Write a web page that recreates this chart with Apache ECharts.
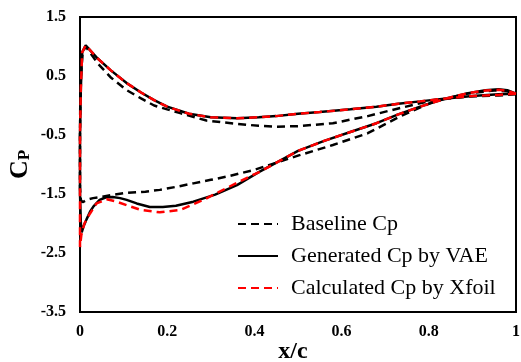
<!DOCTYPE html>
<html>
<head>
<meta charset="utf-8">
<script src="https://cdn.jsdelivr.net/npm/echarts@6/dist/echarts.min.js"></script>
<style>
  html, body { margin: 0; padding: 0; background: #fff; }
  #chart { width: 521px; height: 362px; }
</style>
</head>
<body>
<div id="chart"></div>
<script>
// each curve runs trailing edge -> upper surface -> leading edge -> lower surface -> trailing edge
const seriesNames = ['Baseline Cp', 'Generated Cp by VAE', 'Calculated Cp by Xfoil'];

const baselineCp = [
  [1.0, 0.19], [0.96, 0.17], [0.89, 0.15], [0.81, 0.09], [0.73, -0.05], [0.66, -0.18],
  [0.58, -0.3], [0.5, -0.35], [0.45, -0.36], [0.41, -0.345], [0.36, -0.31], [0.29, -0.255],
  [0.23, -0.13], [0.17, 0.0], [0.14, 0.12], [0.107, 0.26], [0.07, 0.48], [0.04, 0.72],
  [0.013, 1.0], [0.006, 0.9], [0.001, 0.4], [0.0, -0.5], [0.0, -1.4], [0.002, -1.6],
  [0.006, -1.64], [0.015, -1.6], [0.03, -1.57], [0.05, -1.55], [0.07, -1.52], [0.107, -1.48],
  [0.15, -1.46], [0.183, -1.43], [0.22, -1.38], [0.26, -1.32], [0.3, -1.26], [0.34, -1.2],
  [0.4, -1.09], [0.45, -0.97], [0.5, -0.85], [0.58, -0.67], [0.66, -0.47], [0.73, -0.2],
  [0.81, 0.065], [0.887, 0.2], [0.95, 0.255], [0.98, 0.24], [1.0, 0.19]
];

const vaeCp = [
  [1.0, 0.2], [0.96, 0.19], [0.9, 0.16], [0.84, 0.12], [0.78, 0.07], [0.73, 0.03],
  [0.68, -0.02], [0.62, -0.065], [0.55, -0.11], [0.5, -0.14], [0.45, -0.18], [0.41, -0.2],
  [0.36, -0.215], [0.3, -0.2], [0.25, -0.14], [0.2, -0.02], [0.17, 0.09], [0.14, 0.22],
  [0.107, 0.38], [0.07, 0.6], [0.04, 0.8], [0.013, 1.02], [0.005, 0.9], [0.002, 0.3],
  [0.0, -0.5], [0.0, -1.5], [0.002, -2.0], [0.004, -2.15], [0.008, -2.05], [0.015, -1.93],
  [0.023, -1.8], [0.031, -1.71], [0.045, -1.6], [0.06, -1.555], [0.075, -1.55], [0.092, -1.57],
  [0.107, -1.6], [0.13, -1.66], [0.16, -1.72], [0.19, -1.72], [0.22, -1.7], [0.26, -1.63],
  [0.31, -1.51], [0.36, -1.35], [0.41, -1.13], [0.46, -0.93], [0.5, -0.77], [0.56, -0.6],
  [0.62, -0.45], [0.68, -0.3], [0.73, -0.15], [0.78, -0.02], [0.84, 0.12], [0.89, 0.21],
  [0.93, 0.26], [0.96, 0.275], [0.98, 0.26], [1.0, 0.2]
];

const xfoilCp = [
  [1.0, 0.2], [0.96, 0.18], [0.9, 0.16], [0.84, 0.12], [0.78, 0.07], [0.73, 0.03],
  [0.68, -0.02], [0.62, -0.065], [0.55, -0.11], [0.5, -0.14], [0.45, -0.18], [0.41, -0.2],
  [0.36, -0.215], [0.3, -0.2], [0.25, -0.14], [0.2, -0.02], [0.17, 0.09], [0.14, 0.22],
  [0.107, 0.38], [0.07, 0.6], [0.04, 0.8], [0.013, 1.02], [0.005, 0.9], [0.002, 0.3],
  [0.0, -0.5], [0.0, -1.5], [0.0, -2.4], [0.003, -2.2], [0.01, -2.0], [0.023, -1.83],
  [0.038, -1.66], [0.061, -1.59], [0.08, -1.62], [0.107, -1.69], [0.14, -1.77], [0.183, -1.81],
  [0.23, -1.77], [0.283, -1.6], [0.336, -1.4], [0.382, -1.23], [0.413, -1.12], [0.46, -0.93],
  [0.5, -0.77], [0.56, -0.6], [0.62, -0.45], [0.68, -0.3], [0.73, -0.15], [0.78, -0.02],
  [0.84, 0.12], [0.89, 0.21], [0.93, 0.255], [0.96, 0.265], [0.98, 0.25], [1.0, 0.2]
];

const yTickLabels = [-3.5, -2.5, -1.5, -0.5, 0.5, 1.5];

const chart = echarts.init(document.getElementById('chart'));
const serif = '"Liberation Serif", "Times New Roman", serif';

chart.setOption({
  animation: false,
  textStyle: { fontFamily: serif, color: '#000' },
  grid: {
    left: 80, right: 5, top: 17, bottom: 50,
    containLabel: false, outerBoundsMode: 'none',
    show: true, borderColor: '#000', borderWidth: 2
  },
  legend: {
    orient: 'vertical',
    left: 232, top: 208,
    itemWidth: 40, itemHeight: 14, itemGap: 10,
    itemStyle: { opacity: 0 },
    textStyle: { fontFamily: serif, fontSize: 22, lineHeight: 22, color: '#000', padding: [0, 0, 0, 8] },
    data: seriesNames
  },
  xAxis: {
    type: 'value', min: 0, max: 1, interval: 0.2,
    name: 'x/c', nameLocation: 'middle', nameGap: 28, nameMoveOverlap: false,
    nameTextStyle: { fontFamily: serif, fontSize: 24, fontWeight: 'bold', color: '#000', padding: [0, 10, 0, 0] },
    axisLine: { show: true, onZero: false, lineStyle: { color: '#000', width: 2 } },
    axisTick: { show: false },
    splitLine: { show: false },
    axisLabel: { fontFamily: serif, fontSize: 16, fontWeight: 'bold', color: '#000', margin: 12 }
  },
  yAxis: {
    type: 'value', min: -3.5, max: 1.5, interval: 0.5,
    name: '{c|C}{p|P}', nameLocation: 'middle', nameGap: 47, nameRotate: 90, nameMoveOverlap: false,
    nameTextStyle: {
      rich: {
        c: { fontFamily: serif, fontSize: 26, fontWeight: 'bold', color: '#000' },
        p: { fontFamily: serif, fontSize: 17, fontWeight: 'bold', color: '#000', verticalAlign: 'bottom', padding: [8, 0, 0, 0] }
      }
    },
    axisLine: { show: true, onZero: false, lineStyle: { color: '#000', width: 2 } },
    axisTick: { show: false },
    splitLine: { show: false },
    axisLabel: {
      fontFamily: serif, fontSize: 16, fontWeight: 'bold', color: '#000', margin: 14,
      formatter: function (v) {
        return yTickLabels.some(t => Math.abs(t - v) < 1e-6) ? String(v) : '';
      }
    }
  },
  series: [
    {
      name: seriesNames[0], type: 'line', data: baselineCp, symbol: 'none',
      lineStyle: { color: '#000', width: 2.5, type: [8, 5] }, itemStyle: { color: '#000' }
    },
    {
      name: seriesNames[1], type: 'line', data: vaeCp, symbol: 'none',
      lineStyle: { color: '#000', width: 2.5 }, itemStyle: { color: '#000' }
    },
    {
      name: seriesNames[2], type: 'line', data: xfoilCp, symbol: 'none',
      lineStyle: { color: '#ff0000', width: 2.5, type: [8, 5] }, itemStyle: { color: '#ff0000' }
    }
  ]
});
</script>
</body>
</html>
